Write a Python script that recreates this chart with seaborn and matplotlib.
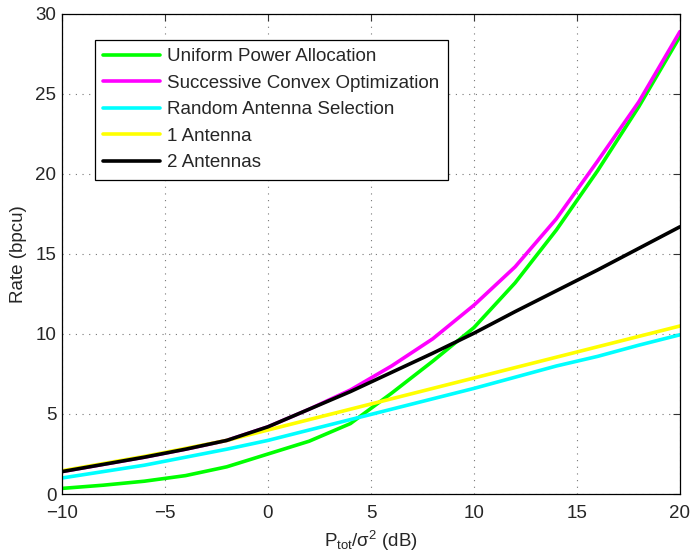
import numpy as np
import pandas as pd
import seaborn as sns
import matplotlib
matplotlib.use('Agg')
import matplotlib.pyplot as plt

# SNR points (dB)
snr_db = [-10, -8, -6, -4, -2, 0, 2, 4, 6, 8, 10, 12, 14, 16, 18, 20]

# rates (bpcu)
uniform_power = [0.35, 0.55, 0.8, 1.15, 1.7, 2.5, 3.3, 4.4, 6.3, 8.3, 10.4, 13.2, 16.5, 20.2, 24.2, 28.6]
succ_convex = [1.4, 1.85, 2.3, 2.8, 3.35, 4.2, 5.3, 6.5, 8.0, 9.7, 11.8, 14.2, 17.2, 20.8, 24.5, 28.9]
random_sel = [1.0, 1.4, 1.8, 2.3, 2.8, 3.35, 4.0, 4.65, 5.3, 5.95, 6.6, 7.3, 8.0, 8.6, 9.3, 9.95]
one_antenna = [1.45, 1.9, 2.35, 2.85, 3.35, 4.0, 4.65, 5.3, 5.95, 6.6, 7.25, 7.9, 8.55, 9.2, 9.85, 10.5]
two_antennas = [1.4, 1.85, 2.3, 2.8, 3.35, 4.2, 5.3, 6.4, 7.6, 8.8, 10.05, 11.4, 12.7, 14.0, 15.35, 16.7]

labels = ['Uniform Power Allocation', 'Successive Convex Optimization',
          'Random Antenna Selection', '1 Antenna', '2 Antennas']
colors = ['#00ff00', '#ff00ff', '#00ffff', '#ffff00', '#000000']

df = pd.DataFrame({'snr': snr_db * 5,
                   'rate': uniform_power + succ_convex + random_sel + one_antenna + two_antennas,
                   'method': np.repeat(labels, len(snr_db))})

sns.set_style('white')
plt.rcParams['font.family'] = ['Liberation Sans', 'DejaVu Sans']
plt.rcParams['mathtext.fontset'] = 'custom'
plt.rcParams['mathtext.rm'] = 'Liberation Sans'
plt.rcParams['mathtext.it'] = 'Liberation Sans:italic'

fs = 13.5
fig = plt.figure(figsize=(6.91, 5.57), dpi=100)
ax = fig.add_axes([0.0897, 0.1131, 0.8943, 0.8618])

sns.lineplot(data=df, x='snr', y='rate', hue='method', hue_order=labels,
             palette=colors, linewidth=2.6, ax=ax)

ax.set_xlim(-10, 20)
ax.set_ylim(0, 30)
ax.set_xticks([-10, -5, 0, 5, 10, 15, 20])
ax.set_xticklabels(['\u221210', '\u22125', '0', '5', '10', '15', '20'])
ax.set_yticks([0, 5, 10, 15, 20, 25, 30])
ax.grid(True, color='#777777', linestyle=(0, (1, 5)), linewidth=0.8)
ax.tick_params(direction='in', length=5, width=0.8, top=True, right=True,
               labelsize=fs, color='#333333')
ax.tick_params(axis='x', pad=8)
ax.tick_params(axis='y', pad=4)
for s in ax.spines.values():
    s.set_color('black')
    s.set_linewidth(0.9)

ax.set_xlabel('P$_{\\mathrm{tot}}$/\u03c3$^{\\mathrm{2}}$ (dB)', fontsize=fs, labelpad=5)
ax.set_ylabel('Rate (bpcu)', fontsize=fs, labelpad=6)

leg = ax.legend(loc='upper left', bbox_to_anchor=(0.0534, 0.946), fontsize=fs,
                frameon=True, fancybox=False, handlelength=3.0, handletextpad=0.4,
                labelspacing=0.5, borderpad=0.45, borderaxespad=0)
leg.get_frame().set_edgecolor('black')
leg.get_frame().set_linewidth(0.9)
leg.get_frame().set_alpha(1)
for line in leg.get_lines():
    line.set_linewidth(2.6)

fig.savefig('out.png', dpi=100)
